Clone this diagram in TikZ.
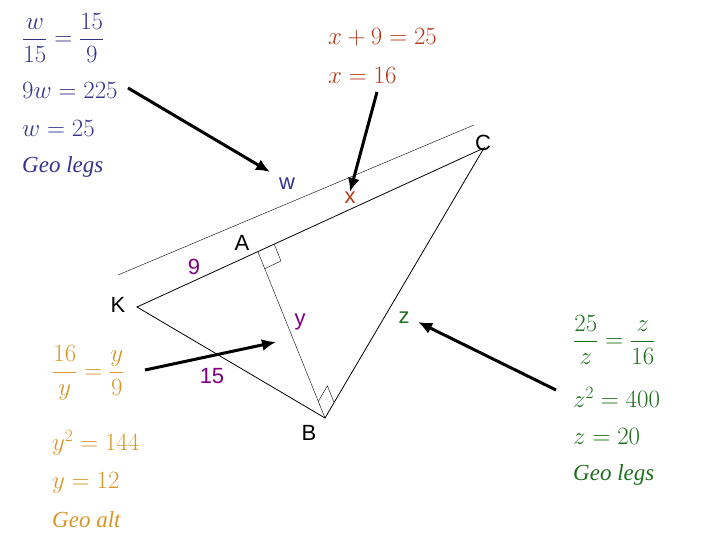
\documentclass[tikz,border=0pt]{standalone}
\usepackage{amsmath}
\usepackage{fontspec}
\setmainfont{Liberation Serif}
\setsansfont{Liberation Sans}
\usetikzlibrary{arrows.meta}
\definecolor{navy}{RGB}{51,51,140}
\definecolor{brick}{RGB}{176,60,30}
\definecolor{gold}{RGB}{215,150,40}
\definecolor{leaf}{RGB}{30,110,30}
\definecolor{plum}{RGB}{128,0,128}
\tikzset{
  lbl/.style={font=\sffamily\fontsize{22}{26}\selectfont, inner sep=0pt},
  eq/.style={font=\fontsize{23}{27}\selectfont, inner sep=0pt, anchor=west},
  pointer/.style={line width=3pt, -{Latex[length=14pt,width=12pt]}}
}
\begin{document}
\begin{tikzpicture}[x=1pt,y=-1pt]
        \useasboundingbox (0,0) rectangle (720,540);
        \coordinate (K) at (137,307);
        \coordinate (A) at (258,252);
        \coordinate (C) at (484,148);
        \coordinate (B) at (325,418);
        \draw [thin] (118,275) -- (474,125);
        \draw [thick] (K) -- (C) -- (B) -- cycle;
        \draw [thin] (A) -- (B);
        \draw [thin] (274.3,244.5) -- (281,261) -- (264.7,268.7);
        \draw [thin] (318.3,401.3) -- (327.4,385.8) -- (334.1,402.5);
        % labels
        \node [lbl] (kl) at (118,305) {K};
        \node [lbl] (al) at (242,243) {A};
        \node [lbl] (cl) at (483,143) {C};
        \node [lbl] (bl) at (309,433) {B};
        \node [lbl, text=navy] (wl) at (287,184) {w};
        \node [lbl, text=brick] (xl) at (350,198) {x};
        \node [lbl, text=plum] (nine) at (194,267) {9};
        \node [lbl, text=plum] (fifteen) at (212,376) {15};
        \node [lbl, text=plum] (yl) at (300,322) {y};
        \node [lbl, text=leaf] (zl) at (404,318) {z};
        % worked steps
        \node [eq, text=navy] (w1) at (22,38) {$\dfrac{w}{15}=\dfrac{15}{9}$};
        \node [eq, text=navy] (w2) at (22,90) {$9w=225$};
        \node [eq, text=navy] (w3) at (22,128) {$w=25$};
        \node [eq, text=navy] (w4) at (22,167) {\itshape Geo legs};
        \node [eq, text=brick] (x1) at (328,37) {$x+9=25$};
        \node [eq, text=brick] (x2) at (328,75) {$x=16$};
        \node [eq, text=gold] (y1) at (52,373) {$\dfrac{16}{y}=\dfrac{y}{9}$};
        \node [eq, text=gold] (y2) at (52,443) {$y^2=144$};
        \node [eq, text=gold] (y3) at (52,483) {$y=12$};
        \node [eq, text=gold] (y4) at (52,520) {\itshape Geo alt};
        \node [eq, text=leaf] (z1) at (573,340) {$\dfrac{25}{z}=\dfrac{z}{16}$};
        \node [eq, text=leaf] (z2) at (573,397) {$z^2=400$};
        \node [eq, text=leaf] (z3) at (573,436) {$z=20$};
        \node [eq, text=leaf] (z4) at (573,475) {\itshape Geo legs};
        % pointers
        \coordinate (p1) at (128,88);
        \coordinate (p2) at (377,92);
        \coordinate (p3) at (145,370);
        \coordinate (p4) at (556,390);
        \draw [pointer] (p1) -- (270,172);
        \draw [pointer] (p2) -- (xl.north);
        \draw [pointer] (p3) -- (276,342);
        \draw [pointer] (p4) -- (418,322);
\end{tikzpicture}
\end{document}
